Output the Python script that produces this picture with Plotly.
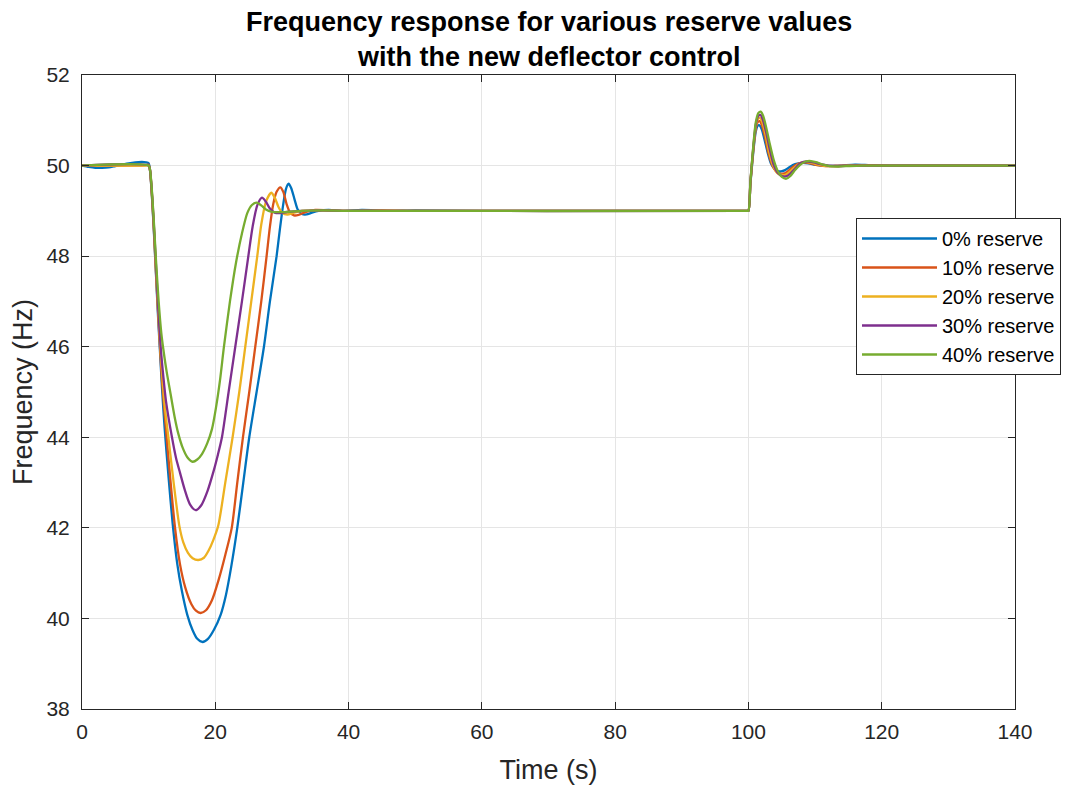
import plotly.graph_objects as go

# (time s, frequency Hz) pairs
reserve_0 = [(0,50.0),(1,49.97),(2,49.95),(3,49.95),(4,49.96),(5,49.99),(6,50.02),(7,50.05),(8,50.07),(9,50.08),
             (9.6,50.07),(10.0,50.05),(10.2,49.9),(10.5,49.3),(10.8,48.5),(11.1,47.6),(11.4,46.7),(11.7,45.9),
             (12.0,45.1),(12.4,44.2),(13.0,43.1),(13.6,42.1),(14.3,41.2),(15.0,40.6),(15.8,40.08),(16.6,39.74),
             (17.3,39.55),(18.1,39.48),(18.9,39.55),(19.8,39.75),(20.8,40.08),(21.6,40.52),(22.4,41.15),(23.3,42.0),
             (24.2,43.0),(25.1,44.0),(26.2,45.0),(27.3,46.0),(28.2,47.0),(29.2,48.0),(29.7,48.6),(30.2,49.15),
             (30.6,49.48),(31.0,49.6),(31.4,49.5),(31.9,49.25),(32.4,49.02),(33.0,48.93),(33.7,48.92),(34.5,48.96),
             (35.5,49.0),(37,49.02),(39,49.0),(42,49.02),(46,49.0),(50,49.01),(60,49.0),(80,49.0),(99.8,49.0),
             (100.0,49.0),(100.3,49.6),(100.7,50.25),(101.1,50.75),(101.4,50.88),(101.65,50.89),(102.0,50.8),
             (102.4,50.58),(102.9,50.28),(103.4,50.04),(103.9,49.93),(104.4,49.88),(104.9,49.87),(105.5,49.9),
             (106.2,49.97),(107.0,50.03),(108.0,50.06),(109.0,50.05),(110.0,50.02),(111.0,50.0),(112.5,49.99),
             (114,50.0),(116,50.02),(118,50.01),(120,50.0),(130,50.0),(140,50.0)]

reserve_10 = [(0,50.0),(5,50.0),(9.5,50.01),(10.0,50.02),(10.2,49.9),(10.5,49.32),(10.8,48.55),(11.1,47.65),
              (11.4,46.8),(11.7,46.0),(12.0,45.25),(12.7,44.0),(13.3,43.0),(13.96,42.0),(14.7,41.2),(15.5,40.68),
              (16.4,40.32),(17.1,40.17),(17.8,40.12),(18.6,40.18),(19.5,40.4),(20.5,40.85),(21.5,41.4),(22.47,42.0),
              (23.3,43.0),(24.15,44.0),(25.1,45.0),(26.0,46.0),(26.9,47.0),(27.7,48.0),(28.2,48.65),(28.7,49.15),
              (29.2,49.42),(29.76,49.52),(30.2,49.42),(30.7,49.15),(31.2,48.97),(31.8,48.9),(32.5,48.91),
              (33.5,48.97),(35,49.02),(37,49.01),(40,49.0),(45,49.01),(50,49.0),(99.8,49.0),(100.0,49.0),
              (100.3,49.62),(100.7,50.3),(101.1,50.82),(101.4,50.96),(101.7,50.98),(102.05,50.88),(102.5,50.62),
              (103.0,50.28),(103.55,50.02),(104.1,49.88),(104.6,49.83),(105.2,49.82),(105.8,49.86),(106.5,49.95),
              (107.3,50.03),(108.3,50.07),(109.3,50.05),(110.3,50.01),(111.5,49.99),(113,49.99),(115,50.0),
              (118,50.01),(122,50.0),(130,50.0),(140,50.0)]

reserve_20 = [(0,50.0),(9.5,50.0),(10.0,50.0),(10.2,49.9),(10.5,49.35),(10.8,48.6),(11.1,47.7),(11.4,46.85),
              (11.7,46.1),(12.0,45.45),(12.4,44.7),(13.0,43.95),(13.75,43.0),(14.6,42.05),(15.2,41.68),(15.9,41.45),
              (16.6,41.33),(17.45,41.29),(18.3,41.34),(19.0,41.5),(19.7,41.73),(20.45,42.05),(21.5,43.0),(22.6,44.0),
              (23.6,45.0),(24.5,46.0),(25.4,47.0),(26.3,48.0),(26.9,48.7),(27.6,49.2),(28.4,49.4),(28.9,49.3),
              (29.5,49.08),(30.1,48.95),(30.8,48.92),(31.8,48.96),(33,49.0),(35,49.01),(40,49.0),(99.8,49.0),
              (100.0,49.0),(100.3,49.63),(100.7,50.32),(101.1,50.86),(101.4,51.02),(101.75,51.05),(102.1,50.95),
              (102.6,50.66),(103.1,50.3),(103.7,50.0),(104.3,49.84),(104.8,49.8),(105.4,49.79),(106.0,49.84),
              (106.7,49.93),(107.5,50.03),(108.5,50.08),(109.5,50.06),(110.5,50.02),(111.7,49.99),(113,49.99),
              (115,50.0),(118,50.0),(140,50.0)]

reserve_30 = [(0,50.0),(10.0,50.0),(10.2,49.91),(10.5,49.38),(10.8,48.65),(11.1,47.8),(11.4,46.95),(11.8,46.0),
              (12.2,45.35),(12.6,44.8),(13.5,44.0),(14.1,43.55),(14.7,43.22),(15.4,42.85),(16.2,42.52),(17.05,42.39),
              (17.9,42.5),(18.8,42.8),(19.8,43.28),(20.4,43.62),(21.0,44.0),(22.0,45.0),(23.0,46.0),(24.0,47.0),
              (24.96,48.0),(25.6,48.65),(26.3,49.12),(27.0,49.29),(27.6,49.2),(28.2,49.05),(28.9,48.96),(29.8,48.95),
              (31,48.98),(33,49.0),(36,49.01),(40,49.0),(99.8,49.0),(100.0,49.0),(100.3,49.64),(100.7,50.35),
              (101.1,50.9),(101.45,51.09),(101.8,51.12),(102.15,51.02),(102.65,50.74),(103.2,50.36),(103.75,50.04),
              (104.4,49.84),(105.0,49.77),(105.6,49.76),(106.2,49.81),(106.9,49.92),(107.8,50.05),(108.8,50.09),
              (109.8,50.07),(110.8,50.03),(112,50.0),(113.5,49.99),(116,50.0),(140,50.0)]

reserve_40 = [(0,50.0),(10.0,50.0),(10.2,49.92),(10.5,49.42),(10.8,48.72),(11.1,47.92),(11.5,47.0),(11.9,46.3),
              (12.2,45.95),(12.7,45.45),(13.3,44.95),(13.9,44.45),(14.45,44.08),(15.1,43.77),(15.8,43.56),
              (16.6,43.46),(17.3,43.51),(18.0,43.63),(18.8,43.87),(19.5,44.18),(20.1,44.65),(20.7,45.25),(21.3,46.0),
              (22.2,47.0),(23.1,47.85),(24.0,48.5),(24.8,48.95),(25.5,49.13),(26.2,49.18),(26.9,49.12),(27.6,49.03),
              (28.5,48.98),(29.5,48.97),(31,48.98),(33,49.0),(36,49.01),(40,49.0),(99.8,49.0),(100.0,49.0),
              (100.3,49.65),(100.7,50.38),(101.1,50.95),(101.5,51.16),(101.85,51.19),(102.2,51.1),(102.7,50.82),
              (103.2,50.48),(103.8,50.12),(104.4,49.88),(105.0,49.75),(105.7,49.71),(106.3,49.77),(107.0,49.9),
              (107.8,50.02),(108.6,50.09),(109.4,50.1),(110.3,50.07),(111.2,50.02),(112.2,49.99),(113.5,49.98),
              (115,49.99),(117,50.0),(140,50.0)]

series_names = ["0% reserve", "10% reserve", "20% reserve", "30% reserve", "40% reserve"]
series_data = [reserve_0, reserve_10, reserve_20, reserve_30, reserve_40]
series_colors = ["#0072BD", "#D95319", "#EDB120", "#7E2F8E", "#77AC30"]

x_ticks = [0, 20, 40, 60, 80, 100, 120, 140]
y_ticks = [38, 40, 42, 44, 46, 48, 50, 52]

title_lines = ["Frequency response for various reserve values", "with the new deflector control"]

FONT = "Arial, Liberation Sans, sans-serif"
AX = "#262626"

# page body has an 8px margin; figure is sized/margined to compensate
W, H = 1070, 777
L, T = 74, 67
R = W - (1015 - 8)
B = H - (709 - 8)

fig = go.Figure()
for name, data, color in zip(series_names, series_data, series_colors):
    t = [p[0] for p in data]
    f = [p[1] for p in data]
    fig.add_trace(go.Scatter(x=t, y=f, mode="lines", name=name,
                             line=dict(color=color, width=2.3, shape="spline", smoothing=0.7)))

axis_common = dict(showline=True, linecolor=AX, linewidth=1, mirror="ticks", ticks="inside",
                   ticklen=7, tickcolor=AX, showgrid=True, gridcolor="#e5e5e5", gridwidth=1,
                   zeroline=False, tickfont=dict(family=FONT, size=21, color=AX))

plot_h = H - T - B
plot_w = W - L - R

fig.update_layout(
    width=W, height=H,
    paper_bgcolor="white", plot_bgcolor="white",
    margin=dict(l=L, r=R, t=T, b=B, autoexpand=False),
    showlegend=True,
    legend=dict(x=(856 - 82) / plot_w, y=(709 - 218) / plot_h, xanchor="left", yanchor="top",
                bgcolor="white", bordercolor=AX, borderwidth=1,
                font=dict(family=FONT, size=20, color="#000000"),
                itemwidth=75, tracegroupgap=0),
    xaxis=dict(range=[0, 140], tickvals=x_ticks, ticklabelstandoff=4,
               title=dict(text="Time (s)", font=dict(family=FONT, size=27, color=AX), standoff=18),
               **axis_common),
    yaxis=dict(range=[38, 52], tickvals=y_ticks, ticklabelstandoff=7,
               title=dict(text="Frequency (Hz)", font=dict(family=FONT, size=27, color=AX), standoff=10),
               **axis_common),
)

for i, line in enumerate(title_lines):
    fig.add_annotation(text="<b>" + line + "</b>", xref="paper", yref="paper",
                       x=0.5, y=1, yanchor="bottom", yshift=[36, 1][i], showarrow=False,
                       font=dict(family=FONT, size=27, color="#000000"))

fig.write_html("out.html")
